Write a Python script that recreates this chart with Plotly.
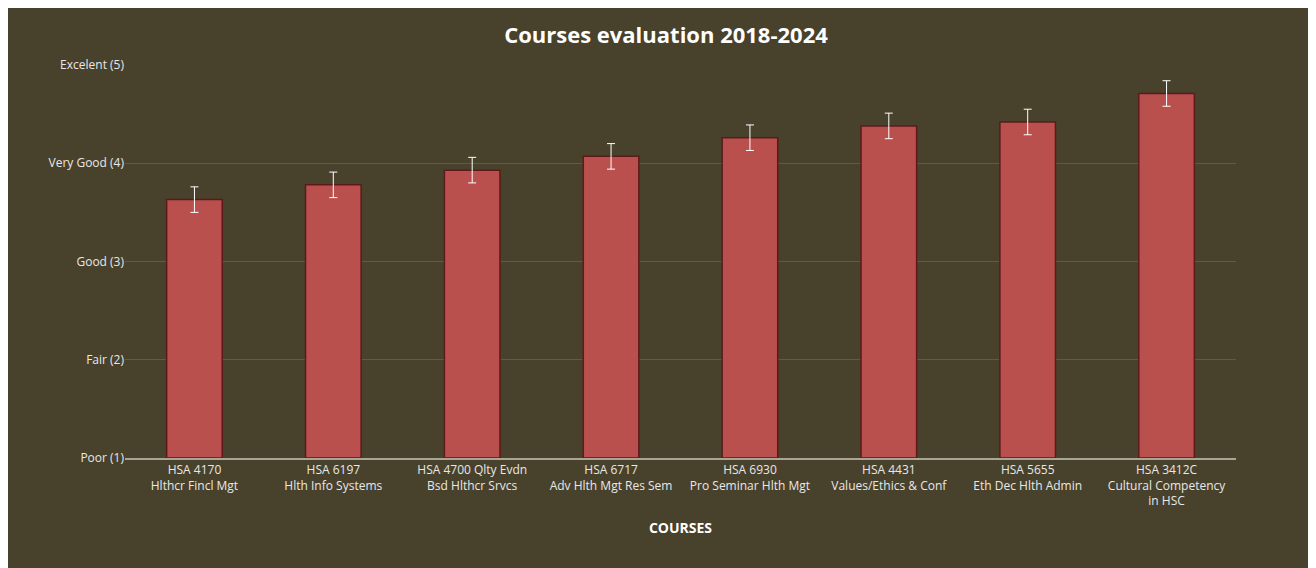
import plotly.graph_objects as go

courses = ["HSA 4170<br>Hlthcr Fincl Mgt", "HSA 6197<br>Hlth Info Systems",
           "HSA 4700 Qlty Evdn<br>Bsd Hlthcr Srvcs", "HSA 6717<br>Adv Hlth Mgt Res Sem",
           "HSA 6930<br>Pro Seminar Hlth Mgt", "HSA 4431<br>Values/Ethics & Conf",
           "HSA 5655<br>Eth Dec Hlth Admin", "HSA 3412C<br>Cultural Competency<br>in HSC"]
scores = [3.63, 3.78, 3.93, 4.07, 4.26, 4.38, 4.42, 4.71]
errors = [0.13, 0.13, 0.13, 0.13, 0.13, 0.13, 0.13, 0.13]
tick_vals = [1, 2, 3, 4, 5]
tick_text = ["Poor (1)", "Fair (2)", "Good (3)", "Very Good (4)", "Excelent (5)"]

bg = "#48412C"

fig = go.Figure(go.Bar(
    x=courses, y=[s - 1 for s in scores], base=1, width=0.4,
    marker=dict(color="#BA504E", line=dict(color="#5E1A1A", width=1.5)),
    error_y=dict(type="data", array=errors, color="white", thickness=1, width=4),
))

# the page adds ~8px body margin, so margins are shifted to compensate
fig.update_layout(
    width=1316, height=568, paper_bgcolor=bg, plot_bgcolor=bg,
    margin=dict(l=117, r=88, t=57, b=118),
    title=dict(text="<b>Courses evaluation 2018-2024</b>", x=0.5, y=0.965,
               font=dict(family="Open Sans", size=22, color="white")),
    font=dict(family="Open Sans", size=12, color="#E8E8E8"),
    showlegend=False,
)
fig.update_yaxes(range=[1, 5], tickvals=tick_vals, ticktext=tick_text,
                 gridcolor="#615B46", zeroline=False, showline=False, ticks="")
fig.update_xaxes(title=dict(text="<b>COURSES</b>", font=dict(size=14, color="white")),
                 showline=True, linecolor="#A9A597", linewidth=1.5, tickangle=0)

fig.write_html("out.html")
